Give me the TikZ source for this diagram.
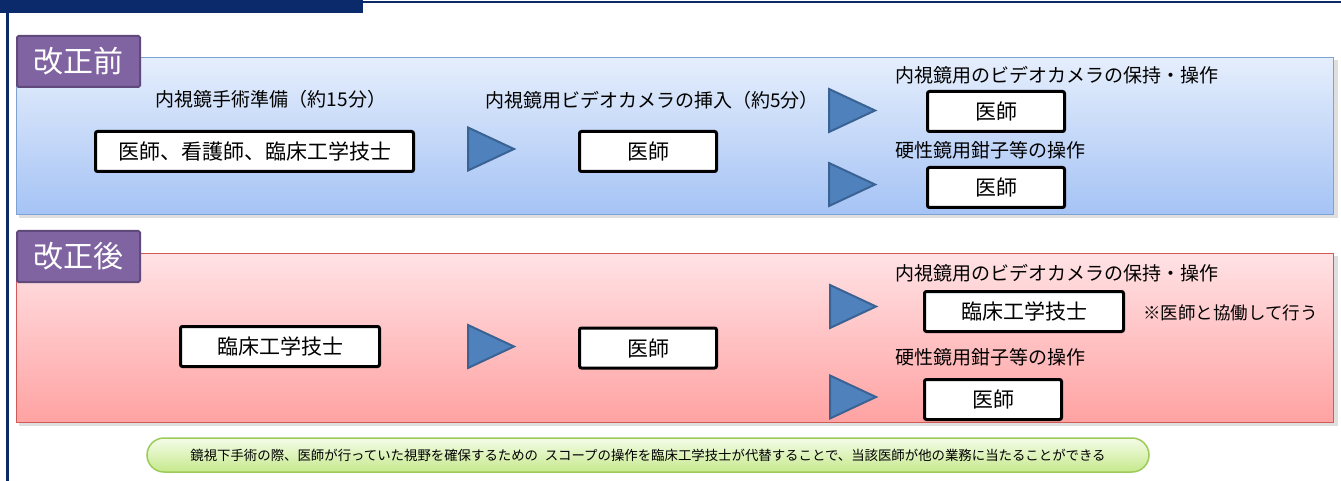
\documentclass[tikz,border=0pt]{standalone}
\usepackage{fontspec}
\setmainfont{Noto Sans CJK JP}
\usepackage{tikz}
\usetikzlibrary{shapes.geometric, positioning}
\definecolor{navy}{HTML}{0B2A6B}
\definecolor{blueTop}{HTML}{E5EEFC}
\definecolor{blueBottom}{HTML}{A5C3F5}
\definecolor{blueEdge}{HTML}{7EA2D4}
\definecolor{redTop}{HTML}{FFE2E5}
\definecolor{redBottom}{HTML}{FFA2A2}
\definecolor{redEdge}{HTML}{D05A58}
\definecolor{tabPurple}{HTML}{8064A2}
\definecolor{tabEdge}{HTML}{5F4A7B}
\definecolor{triBlue}{HTML}{4F81BD}
\definecolor{triEdge}{HTML}{3A6394}
\definecolor{greenTop}{HTML}{F4FCE8}
\definecolor{greenBottom}{HTML}{C6E98C}
\definecolor{greenEdge}{HTML}{9CCB5A}
\newcommand{\tabFont}{\fontsize{30pt}{34pt}\selectfont}
\newcommand{\roleFont}{\fontsize{21pt}{24pt}\selectfont}
\newcommand{\capFont}{\fontsize{19pt}{22pt}\selectfont}
\newcommand{\noteFont}{\fontsize{17.5pt}{20pt}\selectfont}
\newcommand{\sumFont}{\fontsize{13.4pt}{15pt}\selectfont}
\tikzstyle{panelBlue} = [rectangle, draw=blueEdge, line width=1pt, top color=blueTop, bottom color=blueBottom, inner sep=0pt, minimum width=1317pt]
\tikzstyle{panelRed} = [rectangle, draw=redEdge, line width=1pt, top color=redTop, bottom color=redBottom, inner sep=0pt, minimum width=1317pt]
\tikzstyle{tabNode} = [rectangle, fill=tabPurple, draw=tabEdge, line width=2pt, rounded corners=1.5pt, minimum width=123pt, minimum height=51pt, text=white, font=\tabFont, inner sep=0pt]
\tikzstyle{roleBox} = [rectangle, draw=black, fill=white, line width=3pt, rounded corners=2pt, minimum width=137pt, minimum height=40pt, font=\roleFont, inner sep=0pt]
\tikzstyle{caption} = [font=\capFont, inner sep=0pt]
\tikzstyle{arrowTri} = [isosceles triangle, isosceles triangle stretches, minimum width=43pt, minimum height=46pt, fill=triBlue, draw=triEdge, line width=2pt, inner sep=0pt, anchor=lower side]
\tikzstyle{summary} = [rectangle, draw=greenEdge, line width=1.5pt, top color=greenTop, bottom color=greenBottom, rounded corners=17pt, minimum width=1002pt, minimum height=34pt, font=\sumFont, inner sep=0pt]
\begin{document}
\begin{tikzpicture}[x=1pt, y=-1pt]
\useasboundingbox (0,0) rectangle (1341,481);
\fill[white] (0,0) rectangle (1341,481);
\fill[navy] (0,0) rectangle (363,13);
\fill[navy] (363,1) rectangle (1341,3);
\fill[navy] (6,0) rectangle (8.5,481);
\fill[gray, opacity=0.25] (19,60) rectangle (1338,218);
\fill[gray, opacity=0.25] (19,256) rectangle (1338,426);
\node (panelA) [panelBlue, minimum height=157pt] at (675,136) {};
\node (tabA) [tabNode] at (78.5,61.5) {改正前};
\node (capA1) [caption] at (271,99) {内視鏡手術準備（約15分）};
\node (boxA1) [roleBox, minimum width=318pt] at (254.5,151.5) {医師、看護師、臨床工学技士};
\node (triA1) [arrowTri] at (467,149) {};
\node (capA2) [caption] at (652,100) {内視鏡用ビデオカメラの挿入（約5分）};
\node (boxA2) [roleBox] at (648,151.5) {医師};
\node (triA3) [arrowTri] at (828,110.5) {};
\node (triA4) [arrowTri] at (828,184.5) {};
\node (capA3) [caption, anchor=west] at (895,75) {内視鏡用のビデオカメラの保持・操作};
\node (boxA3) [roleBox] at (996,111.5) {医師};
\node (capA4) [caption, anchor=west] at (895,150) {硬性鏡用鉗子等の操作};
\node (boxA4) [roleBox] at (996,187.5) {医師};
\node (panelB) [panelRed, minimum height=169pt] at (675,338) {};
\node (tabB) [tabNode] at (78.5,256.5) {改正後};
\node (boxB1) [roleBox, minimum width=199pt] at (280,346.5) {臨床工学技士};
\node (triB1) [arrowTri] at (467,346.5) {};
\node (boxB2) [roleBox] at (648,348) {医師};
\node (triB3) [arrowTri] at (829,306.5) {};
\node (triB4) [arrowTri] at (829,397) {};
\node (capB3) [caption, anchor=west] at (895,273) {内視鏡用のビデオカメラの保持・操作};
\node (boxB3) [roleBox, minimum width=199pt] at (1024,311.5) {臨床工学技士};
\node (noteB) [font=\noteFont, inner sep=0pt, anchor=west] at (1143,313) {※医師と協働して行う};
\node (capB4) [caption, anchor=west] at (895,357) {硬性鏡用鉗子等の操作};
\node (boxB4) [roleBox] at (993,399.5) {医師};
\node (sum) [summary] at (648,455) {鏡視下手術の際、医師が行っていた視野を確保するための\hspace{0.5em}スコープの操作を臨床工学技士が代替することで、当該医師が他の業務に当たることができる};
\end{tikzpicture}
\end{document}
